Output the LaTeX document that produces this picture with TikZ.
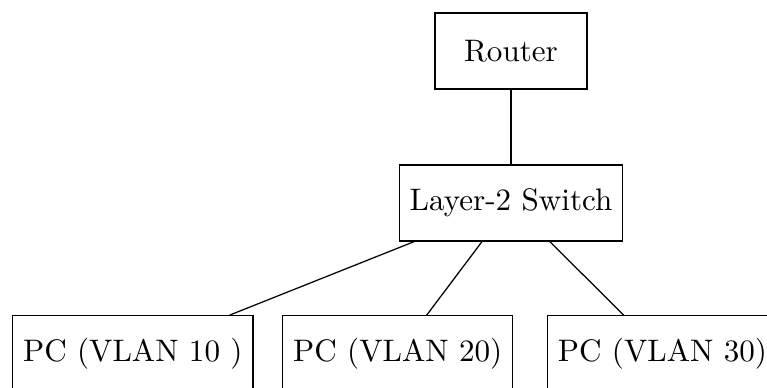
\documentclass[tikz,border=0pt]{standalone}
\begin{document}
\begin{tikzpicture}[x=0.3215pt,y=-0.3215pt,
  netbox/.style={draw, minimum height=24.4pt, inner sep=3.33pt}]
\clip (0,0) rectangle (767,387);
\node[netbox, minimum width=48.9pt] (router) at (511,51) {Router};
\node[netbox] (switch) at (511,203) {Layer-2 Switch};
\node[netbox] (pc1) at (132.8,353.7) {PC (VLAN 10 )};
\node[netbox] (pc2) at (397.7,353.7) {PC (VLAN 20)};
\node[netbox] (pc3) at (662.5,353.7) {PC (VLAN 30)};
\draw (router) -- (switch);
\draw (switch) -- (pc1);
\draw (switch) -- (pc2);
\draw (switch) -- (pc3);
\end{tikzpicture}
\end{document}
